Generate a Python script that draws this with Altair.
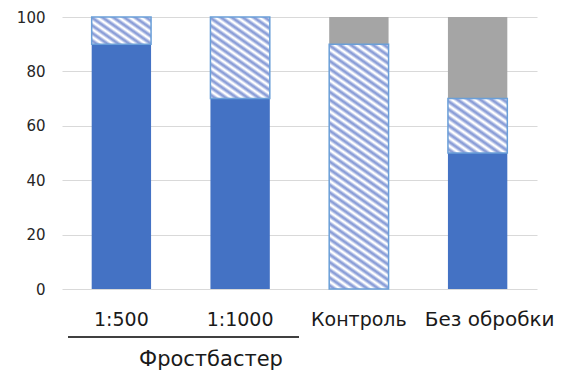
import math
import altair as alt
import pandas as pd

categories = ["1:500", "1:1000", "Контроль", "Без обробки"]
solid = [90, 70, 0, 50]
hatched = [10, 30, 90, 20]
grey = [0, 0, 10, 30]
y_ticks = [0, 20, 40, 60, 80, 100]
group_label = "Фростбастер"

W, H = 475, 272
BLUE = "#4472c4"
GREY = "#a5a5a5"
STRIPE = "#8c9fd8"
EDGE = "#6a9fd8"

rows = []
for c, s, h, g in zip(categories, solid, hatched, grey):
    rows.append({"cat": c, "part": "solid", "lo": 0, "hi": s})
    rows.append({"cat": c, "part": "hatch", "lo": s, "hi": s + h})
    rows.append({"cat": c, "part": "grey", "lo": s + h, "hi": s + h + g})
df = pd.DataFrame(rows)
df = df[df["hi"] > df["lo"]]

xscale = alt.Scale(domain=categories, paddingInner=0.5, paddingOuter=0.25)
yscale = alt.Scale(domain=[0, 100])

x_enc = alt.X("cat:N", scale=xscale, axis=None, sort=categories)
y_enc = alt.Y("lo:Q", scale=yscale,
              axis=alt.Axis(values=y_ticks, grid=True, gridColor="#d9d9d9", gridWidth=1,
                            domain=False, ticks=False, tickSize=0, labelPadding=17,
                            labelFontSize=15, labelColor="#262626", labelFont="DejaVu Sans",
                            title=None))

base = alt.Chart(df)

solid_layer = base.transform_filter(alt.datum.part == "solid").mark_bar(color=BLUE).encode(
    x=x_enc, y=y_enc, y2="hi:Q")
grey_layer = base.transform_filter(alt.datum.part == "grey").mark_bar(color=GREY).encode(
    x=x_enc, y=y_enc, y2="hi:Q")

step = W / 4.0
bw = step * 0.5
ang = math.radians(35)
period = 6.3


def hatch_gradient(h_px):
    w = bw
    L = w * math.sin(ang) + h_px * math.cos(ang)
    A = w * math.sin(ang) / L
    B = -h_px * math.cos(ang) / L
    n2 = A * A + B * B
    dx, dy = A / n2, B / n2
    n = max(1, int(round(L / period)))
    stops = []
    for k in range(n):
        stops.append(alt.GradientStop(offset=(k + 0.06) / n, color="#ffffff"))
        stops.append(alt.GradientStop(offset=(k + 0.42) / n, color=STRIPE))
        stops.append(alt.GradientStop(offset=(k + 0.58) / n, color=STRIPE))
        stops.append(alt.GradientStop(offset=(k + 0.94) / n, color="#ffffff"))
    return alt.LinearGradient(gradient="linear", stops=stops,
                              x1=0, y1=1, x2=dx, y2=1 + dy)


hatch_layers = []
for c, s, h in zip(categories, solid, hatched):
    if h <= 0:
        continue
    h_px = h / 100.0 * H
    hatch_layers.append(
        base.transform_filter((alt.datum.part == "hatch") & (alt.datum.cat == c))
        .mark_bar(fill=hatch_gradient(h_px), stroke=EDGE, strokeWidth=1.5)
        .encode(x=x_enc, y=y_enc, y2="hi:Q")
    )

lab_df = pd.DataFrame({"cat": categories})
labels_a = alt.Chart(lab_df).transform_filter(alt.datum.cat != categories[3]).mark_text(
    fontSize=19, font="DejaVu Sans", baseline="alphabetic", color="#1a1a1a").encode(
    x=x_enc, y=alt.value(309), text="cat:N")
labels_b = alt.Chart(lab_df).transform_filter(alt.datum.cat == categories[3]).mark_text(
    fontSize=20, font="DejaVu Sans", baseline="alphabetic", color="#1a1a1a", dx=12).encode(
    x=x_enc, y=alt.value(309), text="cat:N")

line = alt.Chart(pd.DataFrame({"g": [group_label]})).mark_rule(color="#000000", strokeWidth=1.5).encode(
    x=alt.value(6), x2=alt.value(237), y=alt.value(320))
group_text = alt.Chart(pd.DataFrame({"g": [group_label]})).mark_text(
    fontSize=21, font="DejaVu Sans", baseline="alphabetic", color="#1a1a1a").encode(
    x=alt.value(149), y=alt.value(349), text="g:N")

chart = alt.layer(solid_layer, grey_layer, *hatch_layers, labels_a, labels_b, line, group_text).properties(
    width=W, height=H,
    autosize=alt.AutoSizeParams(type="none"),
    padding={"left": 62, "top": 17, "right": 24, "bottom": 83},
    background="#ffffff",
).configure_view(stroke=None)

chart.save("out.html", embed_options={"renderer": "svg", "actions": False})
